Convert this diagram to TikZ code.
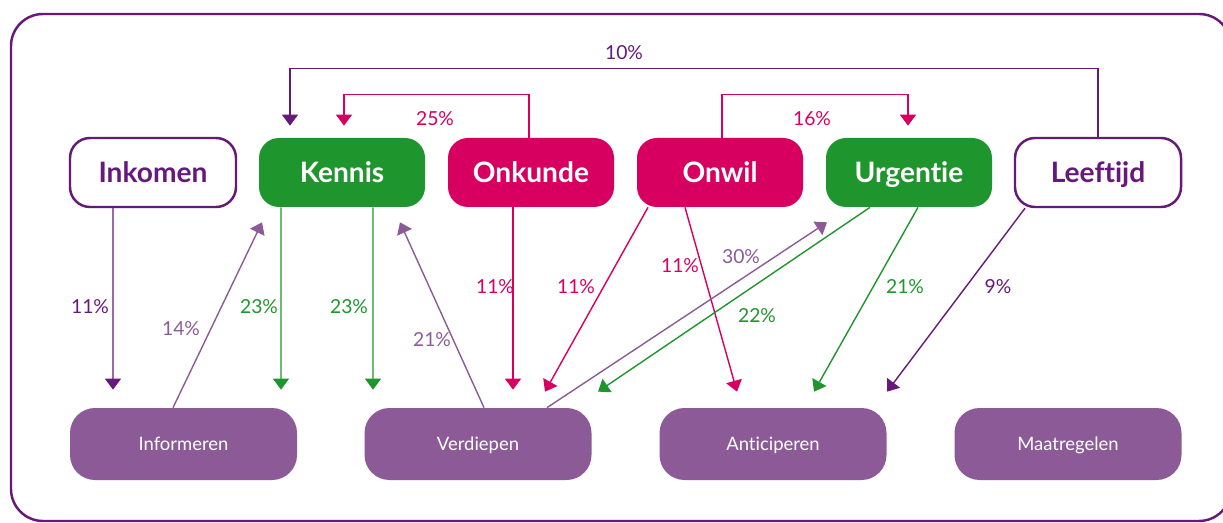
\documentclass[tikz,border=0pt]{standalone}
\usepackage{fontspec}
\setmainfont{Lato}[Ligatures=NoCommon]
\usetikzlibrary{arrows.meta}

\definecolor{dpurple}{HTML}{66197A}
\definecolor{lpurple}{HTML}{8C5B97}
\definecolor{kgreen}{HTML}{1E962D}
\definecolor{kmagenta}{HTML}{D70060}

\tikzset{
  topbox/.style={shape=rectangle,rounded corners=0.4cm,minimum width=3.32cm,minimum height=1.38cm,text height=11.5pt,text depth=0pt,font=\fontsize{16}{18}\selectfont\bfseries},
  whitebox/.style={topbox,draw=dpurple,line width=1.4pt,fill=white,text=dpurple},
  greenbox/.style={topbox,fill=kgreen,text=white},
  redbox/.style={topbox,fill=kmagenta,text=white},
  lowbox/.style={shape=rectangle,rounded corners=0.5cm,minimum width=4.54cm,minimum height=1.44cm,text height=7.6pt,text depth=0pt,fill=lpurple,text=white,font=\fontsize{10.5}{12}\selectfont},
  pct/.style={font=\fontsize{11}{13}\selectfont,inner sep=1pt},
  link/.style={line width=0.8pt,-{Triangle[width=0.32cm,length=0.22cm]}}
}

\begin{document}
\begin{tikzpicture}
\useasboundingbox (0,0) rectangle (24.46,-10.46);
\draw[dpurple,line width=1.4pt,rounded corners=0.64cm] (0.22,-0.28) rectangle (24.62,-10.42);

% top row
\node[whitebox](inkomen) at (3.06,-3.45) {Inkomen};
\node[greenbox](kennis) at (6.84,-3.45) {Kennis};
\node[redbox](onkunde) at (10.62,-3.45) {Onkunde};
\node[redbox](onwil) at (14.40,-3.45) {Onwil};
\node[greenbox](urgentie) at (18.18,-3.45) {Urgentie};
\node[whitebox](leeftijd) at (21.96,-3.45) {Leeftijd};

% bottom row
\node[lowbox](informeren) at (3.67,-8.88) {Informeren};
\node[lowbox](verdiepen) at (9.56,-8.88) {Verdiepen};
\node[lowbox](anticiperen) at (15.46,-8.88) {Anticiperen};
\node[lowbox](maatregelen) at (21.36,-8.88) {Maatregelen};

% loops over the top
\draw[link,dpurple] (leeftijd.north) -- ++(0,1.36) -| ([xshift=-1.04cm,yshift=0.24cm]kennis.north);
\draw[link,kmagenta] ([xshift=-0.04cm]onkunde.north) -- ++(0,0.86) -| ([xshift=0.04cm,yshift=0.24cm]kennis.north);
\draw[link,kmagenta] ([xshift=0.04cm]onwil.north) -- ++(0,0.86) -| ([xshift=-0.02cm,yshift=0.24cm]urgentie.north);

% down and up
\draw[link,dpurple] ([xshift=-0.8cm]inkomen.south) -- ([xshift=-1.41cm,yshift=0.36cm]informeren.north);
\draw[link,lpurple] ([xshift=-0.21cm]informeren.north) -- ([xshift=-1.6cm,yshift=-0.3cm]kennis.south);
\draw[link,kgreen] ([xshift=-1.22cm]kennis.south) -- ([xshift=1.95cm,yshift=0.36cm]informeren.north);
\draw[link,kgreen] ([xshift=0.62cm]kennis.south) -- ([xshift=-2.1cm,yshift=0.36cm]verdiepen.north);
\draw[link,lpurple] ([xshift=0.12cm]verdiepen.north) -- ([xshift=1.16cm,yshift=-0.3cm]kennis.south);
\draw[link,kmagenta] ([xshift=-0.36cm]onkunde.south) -- ([xshift=0.7cm,yshift=0.36cm]verdiepen.north);
\draw[link,kmagenta] ([xshift=-1.44cm]onwil.south) -- ([xshift=1.34cm,yshift=0.32cm]verdiepen.north);
\draw[link,kmagenta] ([xshift=-0.7cm]onwil.south) -- ([xshift=-0.72cm,yshift=0.32cm]anticiperen.north);
\draw[link,lpurple] ([xshift=1.38cm]verdiepen.north) -- ([xshift=-1.64cm,yshift=-0.3cm]urgentie.south);
\draw[link,kgreen] ([xshift=-0.78cm]urgentie.south) -- ([xshift=2.4cm,yshift=0.32cm]verdiepen.north);
\draw[link,kgreen] ([xshift=0.18cm]urgentie.south) -- ([xshift=0.82cm,yshift=0.32cm]anticiperen.north);
\draw[link,dpurple] ([xshift=-1.46cm]leeftijd.south) -- ([xshift=2.28cm,yshift=0.32cm]anticiperen.north);

% percentages
\node[pct,text=dpurple](p10) at (12.48,-1.06) {10\%};
\node[pct,text=kmagenta](p25) at (8.70,-2.38) {25\%};
\node[pct,text=kmagenta](p16) at (16.24,-2.38) {16\%};
\node[pct,text=dpurple](p11a) at (1.80,-6.14) {11\%};
\node[pct,text=lpurple](p14) at (3.62,-6.58) {14\%};
\node[pct,text=kgreen](p23a) at (5.18,-6.14) {23\%};
\node[pct,text=kgreen](p23b) at (6.98,-6.14) {23\%};
\node[pct,text=lpurple](p21a) at (8.64,-6.80) {21\%};
\node[pct,text=kmagenta](p11b) at (9.90,-5.74) {11\%};
\node[pct,text=kmagenta](p11c) at (11.52,-5.74) {11\%};
\node[pct,text=kmagenta](p11d) at (13.60,-5.32) {11\%};
\node[pct,text=lpurple](p30) at (14.82,-5.14) {30\%};
\node[pct,text=kgreen](p22) at (15.14,-6.32) {22\%};
\node[pct,text=kgreen](p21b) at (18.10,-5.74) {21\%};
\node[pct,text=dpurple](p9) at (19.96,-5.74) {9\%};
\end{tikzpicture}
\end{document}
